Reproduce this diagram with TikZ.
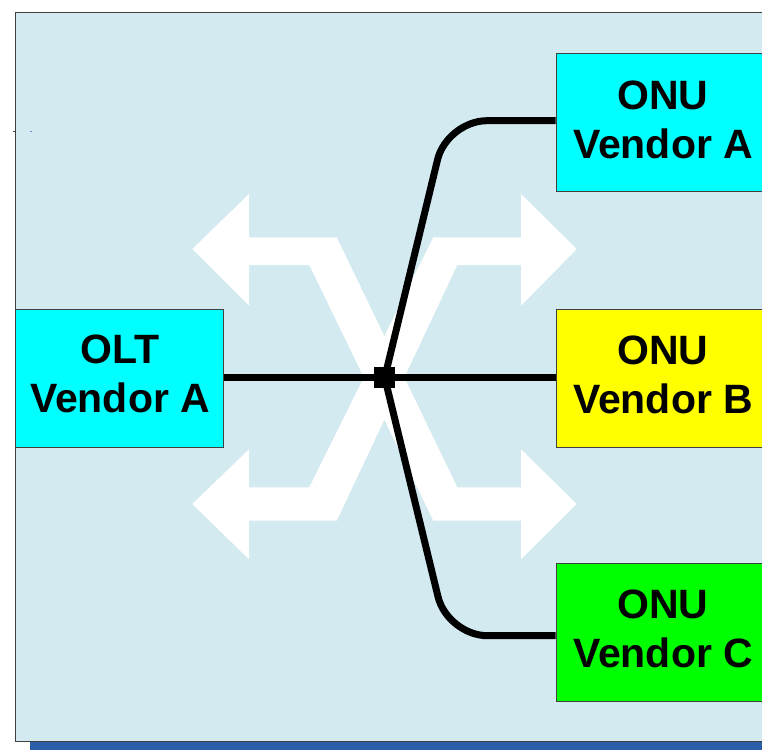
\documentclass[tikz,border=0pt]{standalone}
\usepackage{fontspec}
\setmainfont{Liberation Sans}
\definecolor{bgblue}{RGB}{210,234,240}
\definecolor{barblue}{RGB}{42,94,166}
\definecolor{edgegray}{RGB}{64,64,64}
\definecolor{onucyan}{RGB}{0,255,255}
\definecolor{onuyellow}{RGB}{255,255,0}
\definecolor{onugreen}{RGB}{0,255,0}
\begin{document}
\begin{tikzpicture}[x=1pt,y=-1pt,
  box/.style={rectangle, draw=edgegray, line width=1pt, inner sep=0pt, minimum height=138pt},
  onubox/.style={box, minimum width=214pt},
  oltbox/.style={box, minimum width=208pt},
  lbl/.style={font=\bfseries\fontsize{41}{49}\selectfont, align=center, inner sep=0pt},
  link/.style={line width=7pt, draw=black},
  whitearrow/.style={fill=white, draw=none}]
\useasboundingbox (0,0) rectangle (762,749);
\clip (0,0) rectangle (762,749);
% background panel
\fill[barblue] (30,741.5) rectangle (780,760);
\draw[fill=bgblue, draw=edgegray, line width=1pt] (15,12.7) rectangle (790,741);
\draw[edgegray, line width=1pt] (13,131.3) -- (15,131.3);
\fill[barblue!70] (30,130.6) rectangle (32,132);
% white bent double arrows
\fill[whitearrow] (192.3,249) -- (249,194) -- (249,237.3) -- (336.7,237.3) -- (457.3,487.3)
  -- (521,487.3) -- (521,449.3) -- (576.7,504) -- (521,559.3) -- (521,520.7) -- (433.3,520.7)
  -- (309.3,265) -- (249,265) -- (249,305.7) -- cycle;
\fill[whitearrow] (576.7,249) -- (521,194) -- (521,237.3) -- (433.3,237.3) -- (309.3,487.3)
  -- (249,487.3) -- (249,449.3) -- (192.3,504) -- (249,559.3) -- (249,520.7) -- (336.7,520.7)
  -- (457.3,265) -- (521,265) -- (521,305.7) -- cycle;
% boxes
\node[oltbox, fill=onucyan] (olt) at (119,378) {};
\node[onubox, fill=onucyan] (onuA) at (663,122.7) {};
\node[onubox, fill=onuyellow] (onuB) at (663,378) {};
\node[onubox, fill=onugreen] (onuC) at (663,632.7) {};
\node[lbl] (oltT) at (120,374) {OLT\\Vendor A};
\node[lbl] (onuAT) at (663,119.7) {ONU\\Vendor A};
\node[lbl] (onuBT) at (663,374.5) {ONU\\Vendor B};
\node[lbl] (onuCT) at (663,629.2) {ONU\\Vendor C};
% junction and links
\coordinate (j0) at (384.7,377.5);
\coordinate (cA) at (447,120.7);
\coordinate (cC) at (447.5,635.7);
\draw[link] (olt.east |- j0) -- (onuB.west |- j0);
\draw[link, rounded corners=40pt] (j0) -- (cA) -- (cA -| onuA.west);
\draw[link, rounded corners=40pt] (j0) -- (cC) -- (cC -| onuC.west);
\node[rectangle, fill=black, minimum size=21pt, inner sep=0pt] (j) at (j0) {};
\end{tikzpicture}
\end{document}
